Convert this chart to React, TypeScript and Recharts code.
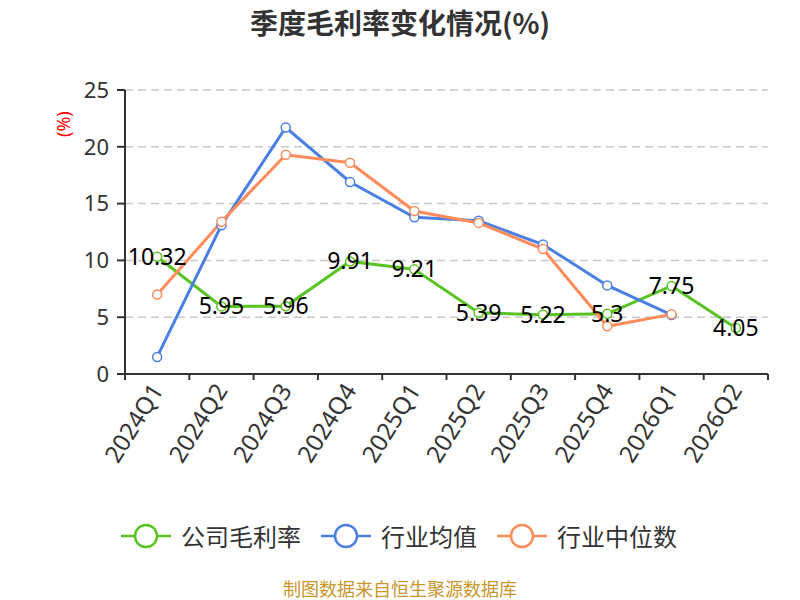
import React from 'react';
import { LineChart, Line, XAxis, YAxis, CartesianGrid, LabelList } from 'recharts';

const quarters = ['2024Q1', '2024Q2', '2024Q3', '2024Q4', '2025Q1', '2025Q2', '2025Q3', '2025Q4', '2026Q1', '2026Q2'];
const companyMargin = [10.32, 5.95, 5.96, 9.91, 9.21, 5.39, 5.22, 5.3, 7.75, 4.05];
const industryMean = [1.5, 13.1, 21.7, 16.9, 13.8, 13.5, 11.4, 7.8, 5.2, null];
const industryMedian = [7.0, 13.4, 19.3, 18.6, 14.35, 13.3, 11.0, 4.2, 5.25, null];
const yTicks = [0, 5, 10, 15, 20, 25];

const series = [
  { key: 'company', name: '公司毛利率', color: '#58c322' },
  { key: 'mean', name: '行业均值', color: '#4b80e2' },
  { key: 'median', name: '行业中位数', color: '#fd8c5b' },
];

const data = quarters.map((q, i) => ({
  q,
  company: companyMargin[i],
  mean: industryMean[i],
  median: industryMedian[i],
}));

const FONT = '"Noto Sans", "Noto Sans CJK SC", sans-serif';
const CJK = '"Noto Sans CJK SC", "Noto Sans", sans-serif';

function QuarterTick(props: any) {
  const { x, y, payload, index } = props;
  const half = payload.offset || 0;
  const last = index === quarters.length - 1;
  const ty = y + 12;
  return (
    <g>
      <line x1={x - half} y1={y} x2={x - half} y2={y + 6} stroke="#333" strokeWidth={2} />
      {last && <line x1={x + half} y1={y} x2={x + half} y2={y + 6} stroke="#333" strokeWidth={2} />}
      <text
        x={x}
        y={ty}
        dy="0.35em"
        textAnchor="end"
        fontSize={24}
        fill="#333"
        fontFamily={FONT}
        transform={`rotate(-58 ${x} ${ty})`}
      >
        {payload.value}
      </text>
    </g>
  );
}

function ValueLabel(props: any) {
  const { x, y, value } = props;
  if (value == null) return null;
  return (
    <text x={x} y={y} dy="0.35em" textAnchor="middle" fontSize={23} fill="#000" fontFamily={FONT}>
      {value}
    </text>
  );
}

const dot = (color: string) => ({ r: 4.5, fill: '#fff', stroke: color, strokeWidth: 1.5 });

export default function App() {
  return (
    <div style={{ position: 'absolute', left: 0, top: 0, width: 800, height: 600, background: '#fff', fontFamily: CJK }}>
      <div style={{ position: 'absolute', top: 2, left: 0, width: 800, textAlign: 'center', fontSize: 28, fontWeight: 'bold', color: '#333', lineHeight: '40px' }}>
        季度毛利率变化情况(%)
      </div>
      <LineChart width={800} height={600} data={data} margin={{ top: 90, right: 32, left: 0, bottom: 0 }}>
        <CartesianGrid vertical={false} stroke="#c8c8c8" strokeDasharray="8 5" strokeWidth={1.5} />
        <XAxis
          dataKey="q"
          scale="band"
          height={226}
          interval={0}
          tickLine={false}
          tickSize={0}
          tickMargin={0}
          axisLine={{ stroke: '#333', strokeWidth: 2 }}
          tick={<QuarterTick />}
        />
        <YAxis
          width={125}
          domain={[0, 25]}
          ticks={yTicks}
          interval={0}
          tickSize={8}
          tickMargin={8}
          axisLine={{ stroke: '#333', strokeWidth: 2 }}
          tickLine={{ stroke: '#333', strokeWidth: 2 }}
          tick={{ fontSize: 22, fill: '#333', fontFamily: FONT }}
          label={{ value: '(%)', angle: -90, position: 'insideTopLeft', dx: 52, dy: 42, fill: '#ff0000', fontSize: 18, fontFamily: FONT }}
        />
        {series.map((s) => (
          <Line
            key={s.key}
            dataKey={s.key}
            name={s.name}
            stroke={s.color}
            strokeWidth={3}
            dot={dot(s.color)}
            activeDot={false}
            isAnimationActive={false}
          >
            {s.key === 'company' && <LabelList dataKey="company" content={<ValueLabel />} />}
          </Line>
        ))}
      </LineChart>
      <div style={{ position: 'absolute', top: 522, left: 121, display: 'flex', alignItems: 'center' }}>
        {series.map((s) => (
          <div key={s.key} style={{ display: 'flex', alignItems: 'center', marginRight: 20 }}>
            <svg width={50} height={28}>
              <line x1={0} y1={14} x2={50} y2={14} stroke={s.color} strokeWidth={2.5} />
              <circle cx={25} cy={14} r={11} fill="#fff" stroke={s.color} strokeWidth={2.5} />
            </svg>
            <span style={{ fontSize: 24, color: '#333', marginLeft: 10, lineHeight: '28px' }}>{s.name}</span>
          </div>
        ))}
      </div>
      <div style={{ position: 'absolute', top: 578, left: 0, width: 800, textAlign: 'center', fontSize: 18, color: '#c8962c', lineHeight: '21px' }}>
        制图数据来自恒生聚源数据库
      </div>
    </div>
  );
}
